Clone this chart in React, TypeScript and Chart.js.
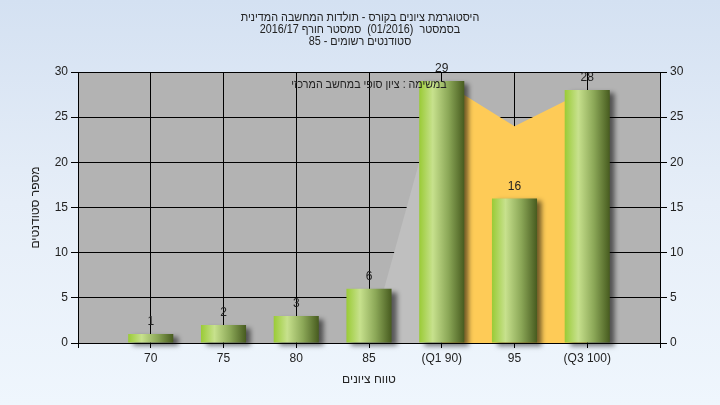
import React, { useEffect, useRef } from "react";
import { Chart, registerables } from "chart.js";

Chart.register(...registerables);

const categories = ["", "70", "75", "80", "85", "(Q1 90)", "95", "(Q3 100)", ""];
const studentCounts = [null, 1, 2, 3, 6, 29, 16, 28, null];
const lowerQuartileArea = [null, null, null, null, 0, 29, null, null, null];
const upperQuartileArea = [null, null, null, null, null, 29, 24, 28, null];
const yTicksMax = 30;
const yStep = 5;

const titleLines = [
  "היסטוגרמת ציונים בקורס - תולדות המחשבה המדינית",
  "בסמסטר  (01/2016)  סמסטר חורף 2016/17",
  "סטודנטים רשומים - 85",
];
const noteText = "במשימה : ציון סופי במחשב המרכזי";
const yTitle = "מספר סטודנטים";
const xTitle = "טווח ציונים";

const FONT = "'Liberation Sans', Arial, sans-serif";
const TEXT = "#222222";

export default function App() {
  const ref = useRef<HTMLCanvasElement | null>(null);

  useEffect(() => {
    if (!ref.current) return;

    const drawCondensed = (ctx: any, text: string, x: number, y: number, sx: number) => {
      ctx.save();
      ctx.translate(x, y);
      ctx.scale(sx, 1);
      ctx.fillText(text, 0, 0);
      ctx.restore();
    };

    const decorPlugin = {
      id: "decor",
      beforeDraw(chart: any) {
        const { ctx, chartArea } = chart;
        ctx.save();
        ctx.fillStyle = "#b3b3b3";
        ctx.fillRect(chartArea.left, chartArea.top, chartArea.right - chartArea.left, chartArea.bottom - chartArea.top);
        ctx.restore();
      },
      beforeDatasetDraw(chart: any, args: any) {
        if (args.meta.type === "bar") {
          const ctx = chart.ctx;
          ctx.save();
          ctx.shadowColor = "rgba(0,0,0,0.55)";
          ctx.shadowOffsetX = 5;
          ctx.shadowOffsetY = 3;
          ctx.shadowBlur = 5;
        }
      },
      afterDatasetDraw(chart: any, args: any) {
        if (args.meta.type === "bar") {
          chart.ctx.restore();
        }
      },
      afterDatasetsDraw(chart: any) {
        const { ctx, chartArea } = chart;
        ctx.save();
        ctx.fillStyle = TEXT;
        ctx.font = `12px ${FONT}`;
        ctx.textAlign = "center";
        ctx.textBaseline = "middle";
        const meta = chart.getDatasetMeta(0);
        meta.data.forEach((el: any, i: number) => {
          const v = studentCounts[i];
          if (v === null || v === undefined) return;
          ctx.fillText(String(v), el.x, el.y - 12);
        });
        ctx.direction = "rtl";
        drawCondensed(ctx, noteText, (chartArea.left + chartArea.right) / 2, chartArea.top + 13, 0.89);
        titleLines.forEach((t, i) => {
          drawCondensed(ctx, t, 360, 18 + i * 12, 0.9);
        });
        ctx.restore();
      },
    };

    const barFill = (c: any) => {
      const chart = c.chart;
      const xs = chart.scales && chart.scales.x;
      if (!xs || !chart.chartArea) return "#8db04a";
      const cx = xs.getPixelForValue(c.dataIndex);
      const step = xs.getPixelForValue(1) - xs.getPixelForValue(0);
      const w = step * 0.62;
      const g = chart.ctx.createLinearGradient(cx - w / 2, 0, cx + w / 2, 0);
      g.addColorStop(0, "#9acb36");
      g.addColorStop(0.3, "#c7e18d");
      g.addColorStop(0.65, "#8ba757");
      g.addColorStop(1, "#475b1f");
      return g;
    };

    const chart = new Chart(ref.current, {
      type: "bar",
      data: {
        labels: categories,
        datasets: [
          {
            type: "bar",
            data: studentCounts,
            backgroundColor: barFill,
            borderWidth: 0,
            categoryPercentage: 1,
            barPercentage: 0.62,
            order: 0,
            clip: 10,
          } as any,
          {
            type: "line",
            data: upperQuartileArea,
            backgroundColor: "#fecb57",
            borderWidth: 0,
            borderColor: "rgba(0,0,0,0)",
            pointRadius: 0,
            fill: "origin",
            tension: 0,
            order: 1,
          },
          {
            type: "line",
            data: lowerQuartileArea,
            backgroundColor: "#bfbfbf",
            borderWidth: 0,
            borderColor: "rgba(0,0,0,0)",
            pointRadius: 0,
            fill: "origin",
            tension: 0,
            order: 2,
          },
        ],
      },
      options: {
        responsive: false,
        animation: false,
        layout: { padding: { top: 72, left: 0, right: 0, bottom: 0 } },
        plugins: {
          legend: { display: false },
          title: { display: false },
          tooltip: { enabled: false },
        },
        scales: {
          x: {
            offset: false,
            grid: { offset: false, color: "#000", lineWidth: 1, tickLength: 5, tickColor: "#000" },
            border: { display: true, color: "#000", width: 1 },
            ticks: { color: TEXT, font: { family: FONT, size: 12 }, padding: 3, maxRotation: 0, autoSkip: false },
            title: { display: true, text: xTitle, color: TEXT, font: { family: FONT, size: 12 }, padding: { top: 0, bottom: 18 } },
            afterFit: (s: any) => { s.height = 62; },
          },
          y: {
            position: "left",
            min: 0,
            max: yTicksMax,
            grid: { color: "#000", lineWidth: 1, tickLength: 7, tickColor: "#000" },
            border: { display: true, color: "#000", width: 1 },
            ticks: { stepSize: yStep, color: TEXT, font: { family: FONT, size: 12 }, padding: 3 },
            title: { display: true, text: yTitle, color: TEXT, font: { family: FONT, size: 12 }, padding: { top: 28, bottom: 0 } },
            afterFit: (s: any) => { s.width = 78; },
          },
          y2: {
            position: "right",
            min: 0,
            max: yTicksMax,
            grid: { drawOnChartArea: false, tickLength: 7, tickColor: "#000" },
            border: { display: true, color: "#000", width: 1 },
            ticks: { stepSize: yStep, color: TEXT, font: { family: FONT, size: 12 }, padding: 3 },
            afterFit: (s: any) => { s.width = 60; },
          },
        },
      },
      plugins: [decorPlugin],
    } as any);

    return () => chart.destroy();
  }, []);

  return (
    <div
      style={{
        position: "absolute",
        left: 0,
        top: 0,
        width: 720,
        height: 405,
        background: "linear-gradient(to bottom, #d4e1f2 0%, #e6eef8 50%, #eff6fd 100%)",
      }}
    >
      <canvas ref={ref} width={720} height={405} style={{ display: "block" }} />
    </div>
  );
}
